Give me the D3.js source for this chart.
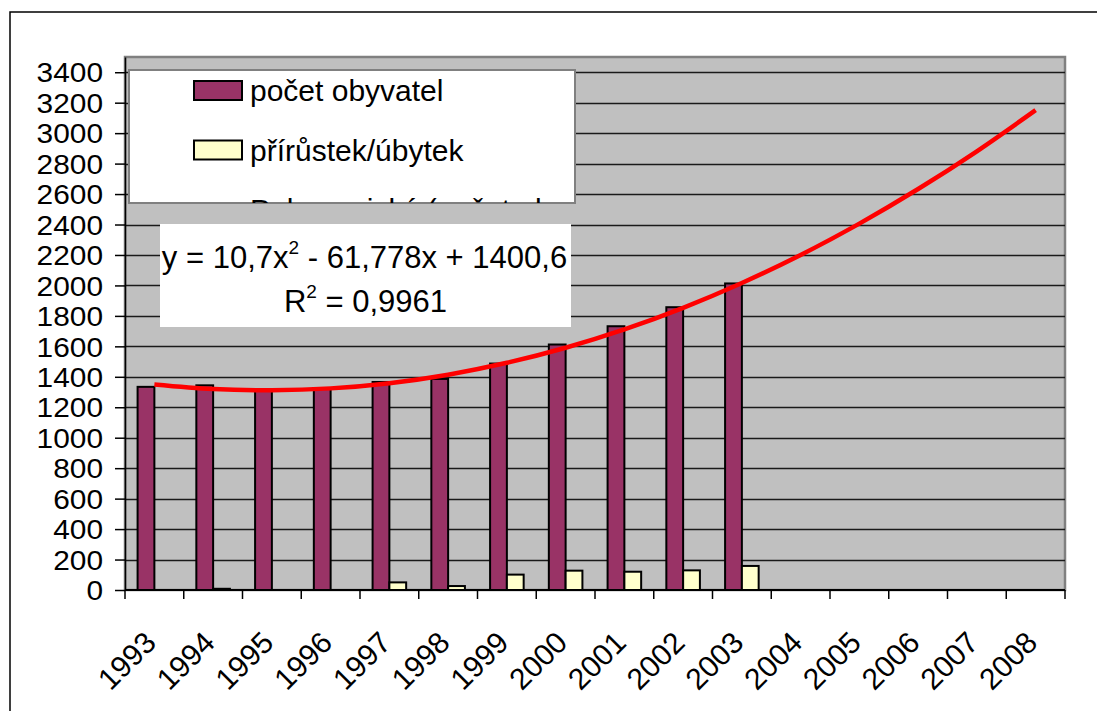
<!DOCTYPE html>
<html>
<head>
<meta charset="utf-8">
<script src="https://cdn.jsdelivr.net/npm/d3@7"></script>
<style>
body { margin: 0; background: #fff; }
text { font-family: Arial, "Liberation Sans", sans-serif; fill: #000; }
</style>
</head>
<body>
<svg id="chart" width="1097" height="711"></svg>
<script>
// values
const years = ["1993","1994","1995","1996","1997","1998","1999","2000","2001","2002","2003","2004","2005","2006","2007","2008"];
const population = [1334,1344,1315,1320,1366,1386,1487,1612,1732,1857,2013,null,null,null,null,null];
const change = [null,8,null,null,50,26,101,127,120,129,158,null,null,null,null,null];
// polynomial trend line as drawn (one point per year)
const trend = [1350,1320,1312,1324,1358,1414,1492,1591,1711,1853,2016,2200,2406,2633,2881,3151];
const yTicks = [0,200,400,600,800,1000,1200,1400,1600,1800,2000,2200,2400,2600,2800,3000,3200,3400];
const seriesNames = ["počet obyvatel","přírůstek/úbytek","Polynomický (počet obyvatel)"];
const seriesColors = ["#993366","#FFFFCC","#FF0000"];

let plot = {left: 125, right: 1065, top: 57, bottom: 590};
let svg = d3.select("#chart");

// outer chart border (runs off the right and bottom of the picture)
svg.append("rect")
    .attr("x", 10).attr("y", 12)
    .attr("width", 1200).attr("height", 800)
    .style("fill", "#fff")
    .style("stroke", "#000")
    .style("stroke-width", 1.5);

let x = d3.scaleBand().domain(years).range([plot.left, plot.right]).padding(0);
let x1 = d3.scaleBand().domain(["pop","chg"]).range([0, x.bandwidth()]).paddingInner(0).paddingOuter(0.75);
let y = d3.scaleLinear().domain([0, 3500]).range([plot.bottom, plot.top]);

// plot area
svg.append("rect")
    .attr("x", plot.left).attr("y", plot.top)
    .attr("width", plot.right - plot.left).attr("height", plot.bottom - plot.top)
    .style("fill", "#C0C0C0")
    .style("stroke", "#808080")
    .style("stroke-width", 2.5);

// gridlines
svg.append("g")
    .selectAll("line")
    .data(yTicks.filter(d => d > 0))
    .enter()
    .append("line")
    .attr("x1", plot.left).attr("x2", plot.right)
    .attr("y1", d => Math.round(y(d)) + 0.5).attr("y2", d => Math.round(y(d)) + 0.5)
    .style("stroke", "#1a1a1a")
    .style("stroke-width", 1.5);

// bars
let bars = svg.append("g");
bars.selectAll("rect.pop")
    .data(years.map((d, i) => ({year: d, v: population[i]})).filter(d => d.v != null))
    .enter()
    .append("rect")
    .attr("x", d => x(d.year) + x1("pop"))
    .attr("y", d => y(d.v))
    .attr("width", x1.bandwidth())
    .attr("height", d => y(0) - y(d.v))
    .style("fill", seriesColors[0])
    .style("stroke", "#000")
    .style("stroke-width", 2);

bars.selectAll("rect.chg")
    .data(years.map((d, i) => ({year: d, v: change[i]})).filter(d => d.v != null))
    .enter()
    .append("rect")
    .attr("x", d => x(d.year) + x1("chg"))
    .attr("y", d => y(d.v))
    .attr("width", x1.bandwidth())
    .attr("height", d => y(0) - y(d.v))
    .style("fill", seriesColors[1])
    .style("stroke", "#000")
    .style("stroke-width", 2);

// axes
let yAxis = svg.append("g")
    .attr("transform", "translate(" + plot.left + ",0)")
    .call(d3.axisLeft(y).tickValues(yTicks).tickFormat(d3.format("d"))
        .tickSize(10).tickSizeOuter(0).tickPadding(12));
// labels sit very close together: slightly smaller glyphs, stretched to the reference width
yAxis.selectAll("text")
    .style("font-size", "27px")
    .attr("dy", "0.36em")
    .attr("textLength", d => String(d).length * 16.6)
    .attr("lengthAdjust", "spacingAndGlyphs");
yAxis.selectAll("line, path").style("stroke", "#000").style("stroke-width", 1.5);

let xAxis = svg.append("g")
    .attr("transform", "translate(0," + plot.bottom + ")");
xAxis.append("line")
    .attr("x1", plot.left).attr("x2", plot.right)
    .style("stroke", "#000").style("stroke-width", 2);
xAxis.selectAll("line.tick")
    .data(years.concat(["end"]))
    .enter()
    .append("line")
    .attr("x1", (d, i) => i < years.length ? x(d) : plot.right)
    .attr("x2", (d, i) => i < years.length ? x(d) : plot.right)
    .attr("y1", 0).attr("y2", 9)
    .style("stroke", "#000").style("stroke-width", 1.5);
xAxis.selectAll("text")
    .data(years)
    .enter()
    .append("text")
    .attr("transform", d => "translate(" + (x(d) + x.bandwidth() / 2 - 4) + ",47) rotate(-45)")
    .attr("dy", "0.35em")
    .style("text-anchor", "end")
    .style("font-size", "30px")
    .text(d => d);

// trend line
let line = d3.line()
    .x((d, i) => x(years[i]) + x.bandwidth() / 2)
    .y(d => y(d))
    .curve(d3.curveCatmullRom);
svg.append("path")
    .datum(trend)
    .attr("d", line)
    .style("fill", "none")
    .style("stroke", seriesColors[2])
    .style("stroke-width", 4.5);

// legend (third entry is cut by the box)
let legend = {x: 129, y: 70, w: 446, h: 133};
svg.append("defs").append("clipPath").attr("id", "legclip")
    .append("rect")
    .attr("x", legend.x).attr("y", legend.y)
    .attr("width", legend.w).attr("height", legend.h);
svg.append("rect")
    .attr("x", legend.x).attr("y", legend.y)
    .attr("width", legend.w).attr("height", legend.h)
    .style("fill", "#fff")
    .style("stroke", "#808080")
    .style("stroke-width", 2);
let leg = svg.append("g").attr("clip-path", "url(#legclip)");
seriesNames.forEach(function(name, i){
    let base = 101 + i * 59.5;
    if(i < 2){
        leg.append("rect")
            .attr("x", 194).attr("y", base - 20)
            .attr("width", 48).attr("height", 19)
            .style("fill", seriesColors[i])
            .style("stroke", "#000")
            .style("stroke-width", 2);
    }else{
        leg.append("line")
            .attr("x1", 194).attr("x2", 242)
            .attr("y1", base - 10).attr("y2", base - 10)
            .style("stroke", seriesColors[i])
            .style("stroke-width", 4);
    }
    leg.append("text")
        .attr("x", 250).attr("y", base)
        .style("font-size", "30px")
        .text(name);
});

// equation label
let eq = {x: 160, y: 224, w: 411, h: 103};
svg.append("rect")
    .attr("x", eq.x).attr("y", eq.y)
    .attr("width", eq.w).attr("height", eq.h)
    .style("fill", "#fff");
let eqText = svg.append("text")
    .attr("x", eq.x + eq.w / 2 - 1).attr("y", 268)
    .style("text-anchor", "middle")
    .style("font-size", "31px");
eqText.append("tspan").text("y = 10,7x");
eqText.append("tspan").attr("dy", -14).style("font-size", "19px").text("2");
eqText.append("tspan").attr("dy", 14).text(" - 61,778x + 1400,6");
let r2Text = svg.append("text")
    .attr("x", eq.x + eq.w / 2).attr("y", 312)
    .style("text-anchor", "middle")
    .style("font-size", "31px");
r2Text.append("tspan").text("R");
r2Text.append("tspan").attr("dy", -14).style("font-size", "19px").text("2");
r2Text.append("tspan").attr("dy", 14).text(" = 0,9961");
</script>
</body>
</html>
